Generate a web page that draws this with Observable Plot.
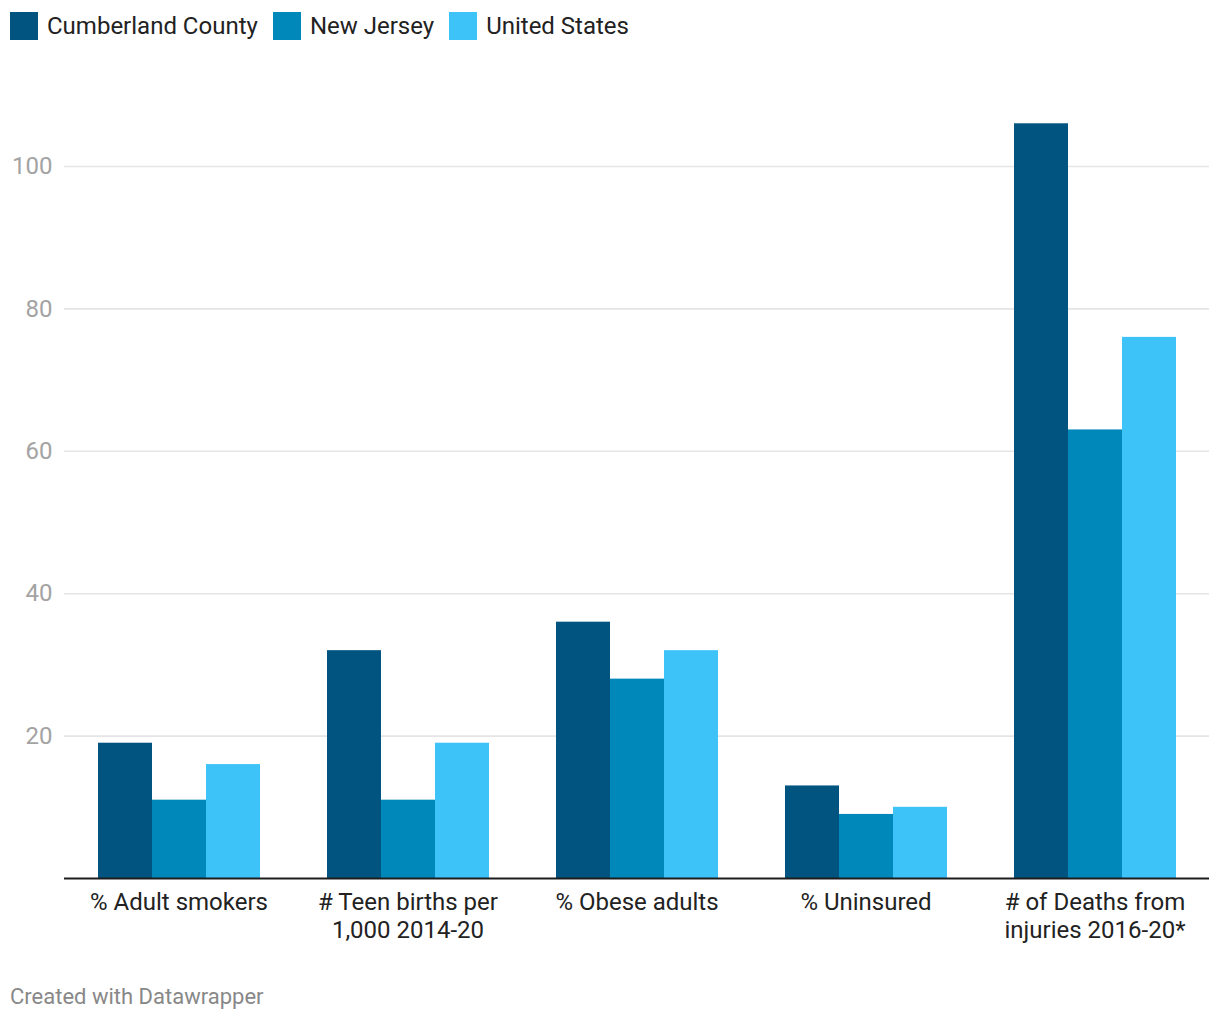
<!DOCTYPE html>
<html><head><meta charset="utf-8">
<script src="https://cdn.jsdelivr.net/npm/d3@7"></script>
<script src="https://cdn.jsdelivr.net/npm/@observablehq/plot@0.6"></script>
<style>
body{margin:0;background:#fff;font-family:Roboto,sans-serif;}
#wrap{position:relative;width:1220px;height:1020px;overflow:hidden;}
#legend{position:absolute;left:10px;top:12px;display:flex;align-items:center;font-size:24px;color:#222;line-height:28px;}
.item{display:flex;align-items:center;margin-right:15px}
.sw{width:28px;height:28px;margin-right:9px}
#chart{position:absolute;left:0;top:60px}
#foot{position:absolute;left:10px;top:984px;font-size:22px;color:#888;line-height:26px}
</style></head>
<body><div id="wrap"><div id="legend"></div><div id="chart"></div><div id="foot">Created with Datawrapper</div></div>
<script>
const categories = ["Adult smokers","Teen births","Obese adults","Uninsured","Deaths from injuries"];
const tickLabels = ["% Adult smokers","# Teen births per\n1,000 2014-20","% Obese adults","% Uninsured","# of Deaths from\ninjuries 2016-20*"];
const series = ["Cumberland County","New Jersey","United States"];
const cumberland = [19,32,36,13,106];
const newJersey = [11,11,28,9,63];
const unitedStates = [16,19,32,10,76];
const colors = ["#01547f","#0088ba","#3ec3f8"];
const yTicks = [20,40,60,80,100];

const seriesValues = [cumberland,newJersey,unitedStates];
const rows = [];
categories.forEach((c,i)=>series.forEach((s,j)=>rows.push({category:c,series:s,value:seriesValues[j][i]})));

const legend = document.getElementById("legend");
series.forEach((s,j)=>{
  const it=document.createElement("div");it.className="item";
  const sw=document.createElement("div");sw.className="sw";sw.style.background=colors[j];
  const t=document.createElement("span");t.textContent=s;
  it.appendChild(sw);it.appendChild(t);legend.appendChild(it);
});

const chart = Plot.plot({
  width:1220, height:900,
  marginLeft:62, marginRight:10, marginTop:34.8, marginBottom:82,
  style:{fontFamily:"Roboto, sans-serif", background:"#fff"},
  fx:{domain:categories, padding:0, label:null, axis:null},
  x:{domain:series, paddingInner:0, paddingOuter:0.62, axis:null},
  y:{domain:[0,110], axis:null},
  color:{domain:series, range:colors},
  marks:[
    Plot.ruleY(yTicks,{stroke:"#e5e5e5", strokeWidth:1.6}),
    Plot.axisY(yTicks,{anchor:"left", tickSize:0, tickPadding:12, fontSize:24, fill:"#a3a3a3", label:null}),
    Plot.barY(rows,{fx:"category", x:"series", y:"value", fill:"series"}),
    Plot.ruleY([0],{stroke:"#1d1d1d", strokeWidth:2}),
    Plot.axisFx({anchor:"bottom", tickSize:0, tickPadding:12, fontSize:24, fill:"#222", lineHeight:1.167, label:null,
      tickFormat:d=>tickLabels[categories.indexOf(d)]})
  ]
});
document.getElementById("chart").appendChild(chart);
</script></body></html>
